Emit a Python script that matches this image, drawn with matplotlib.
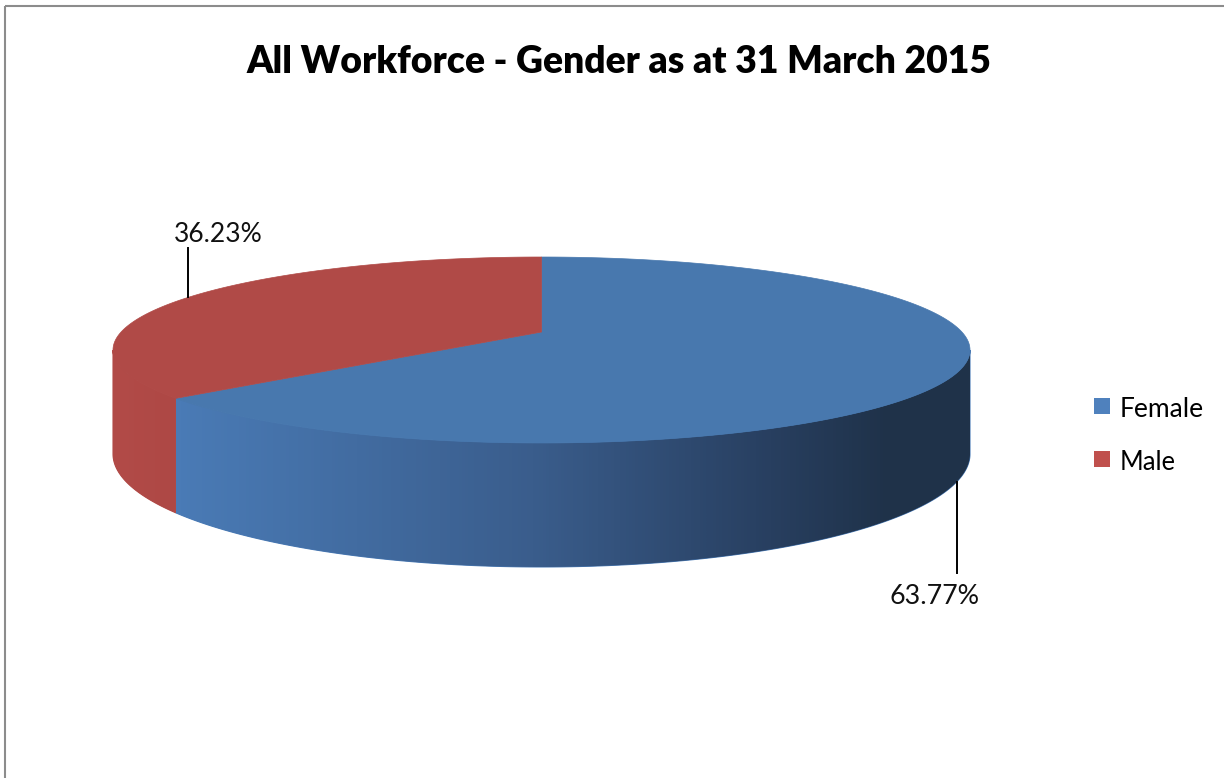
import numpy as np
import matplotlib
matplotlib.use("Agg")
import matplotlib.pyplot as plt
from matplotlib.patches import Polygon, Rectangle
from matplotlib.colors import LinearSegmentedColormap

# ---------- data ----------
labels = ["Female", "Male"]
values = [63.77, 36.23]
title = "All Workforce - Gender as at 31 March 2015"

# ---------- style ----------
top_colors = ["#4878AE", "#B04A47"]
legend_colors = ["#4F81BD", "#C0504D"]
plt.rcParams["font.family"] = ["Lato", "DejaVu Sans"]

# pie geometry (pixels), perspective factor k
cx, cy = 541.5, 332.0
A, B, D, k = 420.4, 89.5, 100.0, 0.1935

W, H = 1224, 778
fig = plt.figure(figsize=(W / 100, H / 100), dpi=100)
ax = fig.add_axes([0, 0, 1, 1])
ax.set_xlim(0, W)
ax.set_ylim(H, 0)
ax.axis("off")


def proj(theta, z=0.0):
    x3, y3 = np.cos(theta), np.sin(theta)
    w = 1 + k * y3
    return cx + A * x3 / w, cy - B * y3 / w + z * D / w


def fit(txt, width):
    fig.canvas.draw()
    bb = txt.get_window_extent()
    txt.set_fontsize(txt.get_fontsize() * width / bb.width)


# slice angles: start at 12 o'clock, go clockwise
total = sum(values)
starts, ends = [], []
a = np.pi / 2
for v in values:
    starts.append(a)
    a = a - 2 * np.pi * v / total
    ends.append(a)

# outer walls (visible where sin(theta) <= -k)
wall_grad = {
    0: [(0.0, "#4A7BB6"), (0.45, "#3A5D8C"), (0.75, "#283F60"), (0.9, "#1F3249"), (1.0, "#1F3249")],
    1: [(0.0, "#B24B48"), (1.0, "#AE4845")],
}
for i in range(len(values)):
    th = np.linspace(starts[i], ends[i], 600)
    th = th[np.sin(th) <= -k]
    if len(th) < 2:
        continue
    xt, yt = proj(th, 0)
    xb, yb = proj(th, 1)
    pts = np.column_stack([np.r_[xt, xb[::-1]], np.r_[yt, yb[::-1]]])
    base = wall_grad[i][0][1]
    ax.add_patch(Polygon(pts, closed=True, facecolor=base, edgecolor=base,
                         lw=0.8, zorder=0.9))
    poly = Polygon(pts, closed=True, facecolor="none", edgecolor="none")
    ax.add_patch(poly)
    x0, x1 = pts[:, 0].min(), pts[:, 0].max()
    y0, y1 = pts[:, 1].min(), pts[:, 1].max()
    cmap = LinearSegmentedColormap.from_list("w%d" % i, wall_grad[i])
    grad = np.linspace(0, 1, 256).reshape(1, -1)
    im = ax.imshow(grad, cmap=cmap, extent=[x0, x1, y1, y0], aspect="auto",
                   interpolation="bilinear", zorder=1)
    im.set_clip_path(poly)

# top faces
for i in range(len(values)):
    th = np.linspace(starts[i], ends[i], 600)
    xt, yt = proj(th, 0)
    pts = np.column_stack([np.r_[cx, xt], np.r_[cy, yt]])
    ax.add_patch(Polygon(pts, closed=True, facecolor=top_colors[i],
                         edgecolor=top_colors[i], lw=0.5, zorder=2))

# data labels with leader lines
for i, v in enumerate(values):
    mid = (starts[i] + ends[i]) / 2
    if np.sin(mid) <= -k:
        lx, ly = proj(mid, 1)
        ly2 = ly + 91
        ax.plot([lx, lx], [ly, ly2], color="black", lw=1.4, zorder=3)
        t = ax.text(lx - 22, ly2 + 31, "%.2f%%" % v, ha="center", va="baseline",
                    fontsize=18, color="#111111")
        fit(t, 90)
    else:
        lx, ly = proj(mid, 0)
        ly2 = ly - 49
        ax.plot([lx, lx], [ly, ly2], color="black", lw=1.4, zorder=3)
        t = ax.text(lx + 30, ly2 - 6, "%.2f%%" % v, ha="center", va="baseline",
                    fontsize=18, color="#111111")
        fit(t, 89)

# title
tt = ax.text(618.5, 73, title, ha="center", va="baseline", fontsize=24,
             fontweight="heavy", color="black")
fit(tt, 745)

# legend
leg_y = [398, 451]
for i, lab in enumerate(labels):
    ax.add_patch(Rectangle((1094, leg_y[i]), 16, 16, facecolor=legend_colors[i],
                           edgecolor="none"))
    lt = ax.text(1120, leg_y[i] + 19, lab, ha="left", va="baseline",
                 fontsize=16, color="black")
    fit(lt, [84, 56][i])

# chart border (top and left visible)
ax.plot([4.5, W], [5.5, 5.5], color="#8C8C8C", lw=1.5, solid_capstyle="butt")
ax.plot([4.5, 4.5], [5.5, H], color="#8C8C8C", lw=1.5, solid_capstyle="butt")

fig.savefig("out.png", dpi=100)
